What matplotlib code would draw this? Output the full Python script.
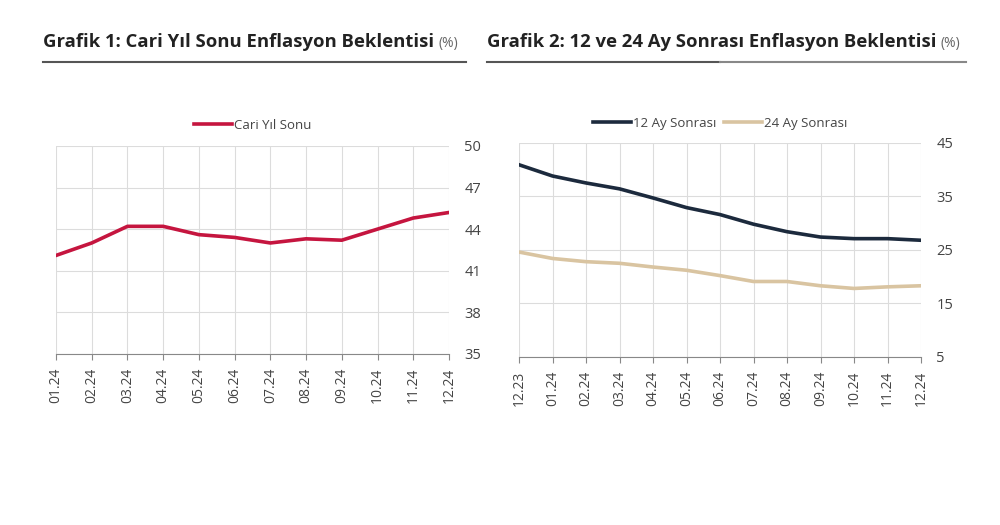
import matplotlib
matplotlib.use("Agg")
import matplotlib.pyplot as plt
from matplotlib.lines import Line2D

plt.rcParams["font.family"] = ["Open Sans", "DejaVu Sans"]

# Grafik 1
months_1 = ["01.24", "02.24", "03.24", "04.24", "05.24", "06.24",
            "07.24", "08.24", "09.24", "10.24", "11.24", "12.24"]
cari_yil_sonu = [42.1, 43.0, 44.2, 44.2, 43.6, 43.4, 43.0, 43.3, 43.2, 44.0, 44.8, 45.2]
yticks_1 = [35, 38, 41, 44, 47, 50]

# Grafik 2
months_2 = ["12.23"] + months_1
ay_12 = [40.9, 38.8, 37.5, 36.4, 34.7, 32.9, 31.6, 29.8, 28.4, 27.4, 27.1, 27.1, 26.8]
ay_24 = [24.6, 23.4, 22.8, 22.5, 21.8, 21.2, 20.2, 19.1, 19.1, 18.3, 17.8, 18.1, 18.3]
yticks_2 = [5, 15, 25, 35, 45]

RED = "#C5153F"
NAVY = "#1C2A3D"
TAN = "#D9C4A1"
GRID = "#DCDCDC"
TXT = "#444444"


def style_axis(ax, labels, yticks):
    x = range(len(labels))
    ax.set_xlim(0, len(labels) - 1)
    ax.set_ylim(yticks[0], yticks[-1])
    ax.set_xticks(list(x))
    ax.set_xticklabels(labels, rotation=90, fontsize=10, color=TXT)
    ax.set_yticks(yticks)
    ax.yaxis.tick_right()
    ax.tick_params(axis="y", length=0, labelsize=10.5, labelcolor=TXT, pad=11)
    ax.tick_params(axis="x", length=4, color="#888888", pad=6)
    ax.grid(True, color=GRID, linewidth=0.8)
    for s in ("top", "left", "right"):
        ax.spines[s].set_visible(False)
    ax.spines["bottom"].set_color("#888888")
    ax.set_axisbelow(True)


def title(fig, x, main):
    t = fig.text(x, 0.92, main, fontsize=13.3, fontweight="bold", color="#222222", va="center")
    fig.canvas.draw()
    bb = t.get_window_extent().transformed(fig.transFigure.inverted())
    fig.text(bb.x1 + 0.004, 0.918, "(%)", fontsize=10, color="#666666", va="center")


fig = plt.figure(figsize=(10, 5.25), dpi=100)

ax1 = fig.add_axes([0.056, 0.326, 0.393, 0.396])
ax1.plot(range(len(months_1)), cari_yil_sonu, color=RED, lw=2.6, label="Cari Yıl Sonu")
style_axis(ax1, months_1, yticks_1)
ax1.legend(loc="lower center", bbox_to_anchor=(0.5, 1.01), frameon=False, fontsize=9.5,
           handlelength=2.9, handletextpad=0.1, labelcolor=TXT)

ax2 = fig.add_axes([0.519, 0.32, 0.402, 0.408])
ax2.plot(range(len(months_2)), ay_12, color=NAVY, lw=2.6, label="12 Ay Sonrası")
ax2.plot(range(len(months_2)), ay_24, color=TAN, lw=2.6, label="24 Ay Sonrası")
style_axis(ax2, months_2, yticks_2)
ax2.legend(loc="lower center", bbox_to_anchor=(0.5, 1.005), frameon=False, fontsize=9.5, ncol=2,
           handlelength=2.9, handletextpad=0.1, columnspacing=0.6, labelcolor=TXT)

# titles + underlines
title(fig, 0.043, "Grafik 1: Cari Yıl Sonu Enflasyon Beklentisi")
title(fig, 0.487, "Grafik 2: 12 ve 24 Ay Sonrası Enflasyon Beklentisi")
fig.add_artist(Line2D([0.043, 0.466], [0.882, 0.882], color="#555555", lw=1.5))
fig.add_artist(Line2D([0.487, 0.72], [0.882, 0.882], color="#555555", lw=1.5))
fig.add_artist(Line2D([0.72, 0.966], [0.882, 0.882], color="#888888", lw=1.5))

fig.savefig("out.png", dpi=100)
